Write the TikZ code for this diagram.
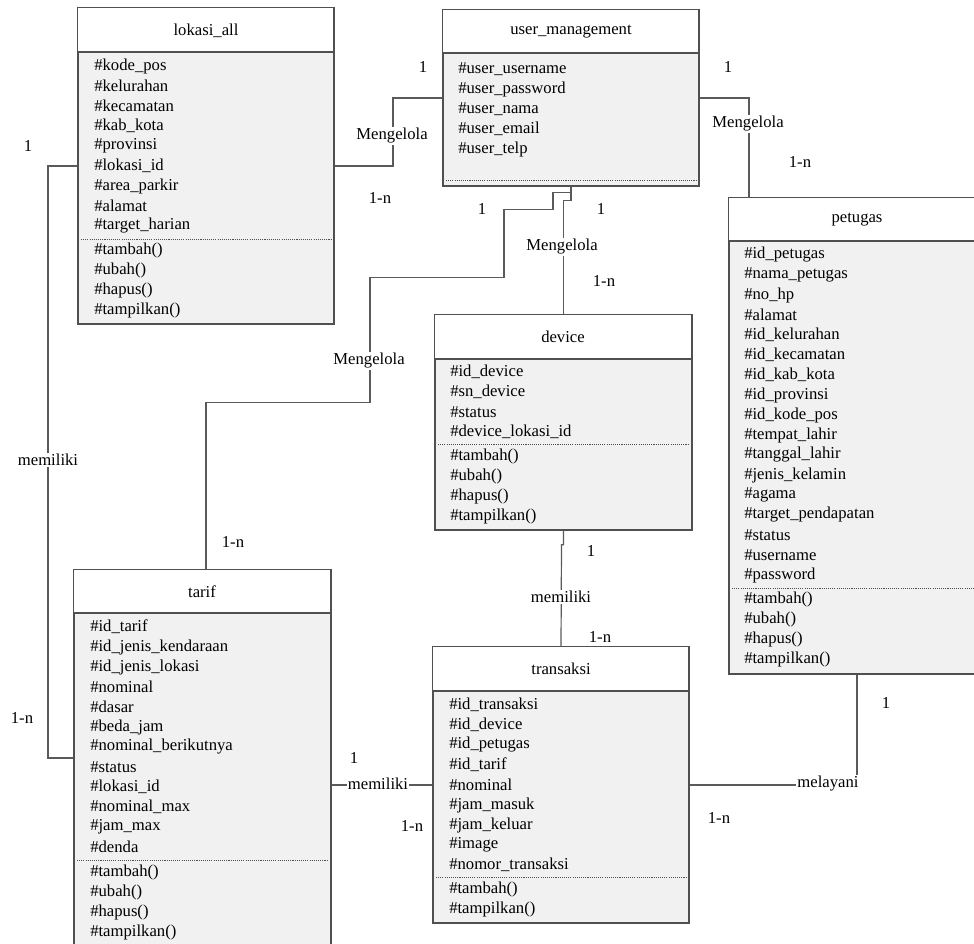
\documentclass[tikz,border=0pt]{standalone}
\usepackage{fontspec}
\setmainfont{Liberation Serif}
\usetikzlibrary{fit}

\definecolor{boxline}{HTML}{505050}
\definecolor{bodygray}{HTML}{F1F1F1}
\definecolor{linkgray}{HTML}{5A5A5A}

\begin{document}
\begin{tikzpicture}[x=0.75pt,y=-0.75pt,line join=miter,
  every node/.style={font=\fontsize{12.5}{14}\selectfont},
  classbox/.style={draw=boxline,line width=1pt,fill=bodygray,inner sep=0pt,fit={#1}},
  header/.style={draw=boxline,line width=1pt,fill=white},
  sep/.style={draw=boxline,line width=0.6pt,dash pattern=on 0.8pt off 0.8pt},
  attr/.style={anchor=west,inner sep=0pt},
  link/.style={draw=linkgray,line width=0.9pt},
  rel/.style={fill=white,inner sep=1pt},
  mult/.style={inner sep=1pt}]
  \useasboundingbox (0,0) rectangle (974,944);

  % lokasi_all
  \node[classbox={(78,8) (334,324)}] (lokasi) {};
  \filldraw[header] (lokasi.north west) rectangle (334,52);
  \node (lokasi-t) at (206,31) {lokasi\_all};
  \foreach \t [count=\i from 0] in {\#kode\_pos,\#kelurahan,\#kecamatan,\#kab\_kota,\#provinsi,\#lokasi\_id,\#area\_parkir,\#alamat,\#target\_harian}
    \node[attr] (lokasi-a\i) at (94,{66+20*\i}) {\t};
  \draw[sep] (81,239) -- (331,239);
  \foreach \t [count=\i from 0] in {\#tambah(),\#ubah(),\#hapus(),\#tampilkan()}
    \node[attr] (lokasi-m\i) at (94,{250+20*\i}) {\t};

  % user_management
  \node[classbox={(443,10) (699,186)}] (user) {};
  \filldraw[header] (user.north west) rectangle (699,53);
  \node (user-t) at (571,32) {user\_management};
  \foreach \t [count=\i from 0] in {\#user\_username,\#user\_password,\#user\_nama,\#user\_email,\#user\_telp}
    \node[attr] (user-a\i) at (458,{69+20*\i}) {\t};
  \draw[sep] (446,180) -- (696,180);

  % petugas
  \node[classbox={(729,198) (985,674)}] (petugas) {};
  \filldraw[header] (petugas.north west) rectangle (985,241);
  \node (petugas-t) at (857,220) {petugas};
  \foreach \t [count=\i from 0] in {\#id\_petugas,\#nama\_petugas,\#no\_hp,\#alamat,\#id\_kelurahan,\#id\_kecamatan,\#id\_kab\_kota,\#id\_provinsi,\#id\_kode\_pos,\#tempat\_lahir,\#tanggal\_lahir,\#jenis\_kelamin,\#agama,\#target\_pendapatan,\#status,\#username,\#password}
    \node[attr] (petugas-a\i) at (744,{255+20*\i}) {\t};
  \draw[sep] (732,588) -- (982,588);
  \foreach \t [count=\i from 0] in {\#tambah(),\#ubah(),\#hapus(),\#tampilkan()}
    \node[attr] (petugas-m\i) at (744,{599+20*\i}) {\t};

  % device
  \node[classbox={(435,315) (692,530)}] (device) {};
  \filldraw[header] (device.north west) rectangle (692,359);
  \node (device-t) at (563,337) {device};
  \foreach \t [count=\i from 0] in {\#id\_device,\#sn\_device,\#status,\#device\_lokasi\_id}
    \node[attr] (device-a\i) at (450,{372+20*\i}) {\t};
  \draw[sep] (438,444) -- (689,444);
  \foreach \t [count=\i from 0] in {\#tambah(),\#ubah(),\#hapus(),\#tampilkan()}
    \node[attr] (device-m\i) at (450,{456+20*\i}) {\t};

  % tarif
  \node[classbox={(74,570) (331,946)}] (tarif) {};
  \filldraw[header] (tarif.north west) rectangle (331,613);
  \node (tarif-t) at (202,592) {tarif};
  \foreach \t [count=\i from 0] in {\#id\_tarif,\#id\_jenis\_kendaraan,\#id\_jenis\_lokasi,\#nominal,\#dasar,\#beda\_jam,\#nominal\_berikutnya,\#status,\#lokasi\_id,\#nominal\_max,\#jam\_max,\#denda}
    \node[attr] (tarif-a\i) at (90,{627+20*\i}) {\t};
  \draw[sep] (77,860) -- (328,860);
  \foreach \t [count=\i from 0] in {\#tambah(),\#ubah(),\#hapus(),\#tampilkan()}
    \node[attr] (tarif-m\i) at (90,{872+20*\i}) {\t};

  % transaksi
  \node[classbox={(433,647) (689,923)}] (transaksi) {};
  \filldraw[header] (transaksi.north west) rectangle (689,691);
  \node (transaksi-t) at (561,669) {transaksi};
  \foreach \t [count=\i from 0] in {\#id\_transaksi,\#id\_device,\#id\_petugas,\#id\_tarif,\#nominal,\#jam\_masuk,\#jam\_keluar,\#image,\#nomor\_transaksi}
    \node[attr] (transaksi-a\i) at (449,{705+20*\i}) {\t};
  \draw[sep] (436,877) -- (686,877);
  \foreach \t [count=\i from 0] in {\#tambah(),\#tampilkan()}
    \node[attr] (transaksi-m\i) at (449,{889+20*\i}) {\t};

  % connectors
  \coordinate (lokUser) at (393,98);
  \coordinate (petTop) at (749,198);
  \coordinate (tarifTop) at (206,570);
  \coordinate (lokTarif) at (48,758);
  \draw[link] (lokasi.east) -| (lokUser) -- (user.west);
  \draw[link] (user.east) -| (petTop);
  \draw[link] (user.south) -- ++(0,14) -| (device.north);
  \draw[link] (user.south) -- ++(0,6) -- ++(-18,0) -- ++(0,17) -- ++(-49,0)
    -- ++(0,68) -- ++(-134,0) -- ++(0,125) -| (tarifTop);
  \draw[link] (device.south) -- ++(0,14) -- ++(-2,0) -- (transaksi.north);
  \draw[link] (lokasi.west) -| (lokTarif) -- (tarif.west);
  \draw[link] (tarif.east |- transaksi.west) -- (transaksi.west);
  \draw[link] (transaksi.east) -| (petugas.south);

  % relation labels
  \node[rel] (r-lu) at (392,136) {Mengelola};
  \node[rel] (r-up) at (748,124) {Mengelola};
  \node[rel] (r-ud) at (562,247) {Mengelola};
  \node[rel] (r-ut) at (369,361) {Mengelola};
  \node[rel] (r-dt) at (561,597) {memiliki};
  \node[rel] (r-lt) at (48,460) {memiliki};
  \node[rel] (r-tt) at (378,784) {memiliki};
  \node[rel] (r-tp) at (828,784) {melayani};

  % multiplicities
  \node[mult] (m-lu1) at (423,67) {1};
  \node[mult] (m-lu2) at (380,198) {1-n};
  \node[mult] (m-up1) at (728,67) {1};
  \node[mult] (m-up2) at (800,162) {1-n};
  \node[mult] (m-ud1) at (601,209) {1};
  \node[mult] (m-ud2) at (604,281) {1-n};
  \node[mult] (m-ut1) at (482,209) {1};
  \node[mult] (m-ut2) at (233,542) {1-n};
  \node[mult] (m-dt1) at (591,551) {1};
  \node[mult] (m-dt2) at (600,637) {1-n};
  \node[mult] (m-lt1) at (28,146) {1};
  \node[mult] (m-lt2) at (22,718) {1-n};
  \node[mult] (m-tt1) at (354,758) {1};
  \node[mult] (m-tt2) at (412,826) {1-n};
  \node[mult] (m-tp1) at (886,703) {1};
  \node[mult] (m-tp2) at (719,818) {1-n};
\end{tikzpicture}
\end{document}
